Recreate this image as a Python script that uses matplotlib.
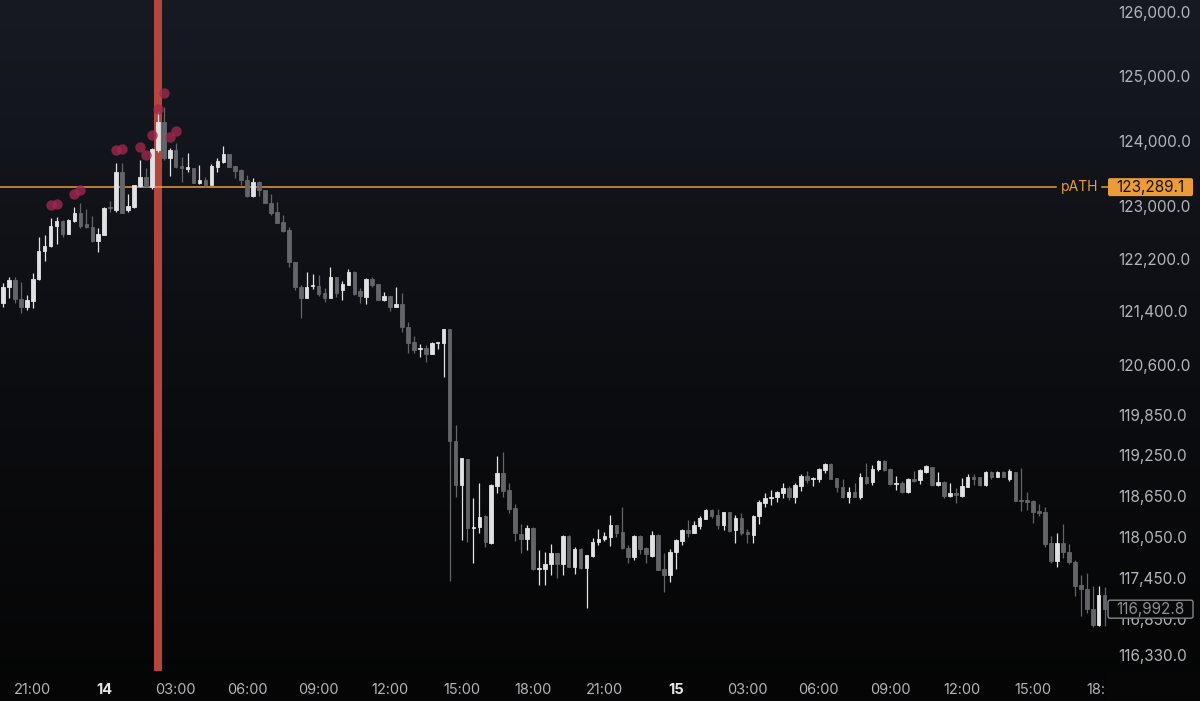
import matplotlib
matplotlib.use("Agg")
import matplotlib.pyplot as plt
import numpy as np
import pandas as pd
from matplotlib import transforms
from matplotlib.colors import LinearSegmentedColormap
from matplotlib.patches import Rectangle, FancyBboxPatch
from matplotlib.ticker import NullLocator

plt.rcParams['font.family'] = ['Inter', 'DejaVu Sans']

# 15 minute candles, 13 Aug 19:45 -> 15 Aug 18:00
start = "2025-08-13 19:45"

opens = [
    121528, 121770, 121876, 121588, 121468, 121558, 121891, 122315, 122391, 122696,
    122772, 122574, 122772, 122894, 122726, 122681, 122467, 122559, 122985, 122940,
    123522, 122940, 122985, 123307, 123445, 123292, 123859, 124291, 123737, 123859,
    123614, 123568, 123583, 123353, 123399, 123322, 123598, 123675, 123798, 123614,
    123552, 123399, 123154, 123368, 123246, 123046, 122909, 122757, 122635, 122149,
    121770, 121603, 121785, 121785, 121679, 121603, 121922, 121724, 121800, 121997,
    121709, 121618, 121891, 121815, 121573, 121634, 121468, 121513, 121166, 120940,
    120835, 120850, 120760, 120925, 120925, 121136, 119463, 118812, 119196, 118179,
    118193, 118355, 117959, 118797, 118990, 118738, 118473, 118091, 118018, 118179,
    117578, 117578, 117651, 117812, 117651, 118061, 117608, 117871, 117593, 117768,
    117973, 118018, 118047, 118223, 118120, 117885, 117754, 118061, 117885, 117768,
    118076, 117578, 117491, 117827, 117988, 118149, 118105, 118208, 118311, 118443,
    118370, 118223, 118414, 118149, 118325, 118120, 118076, 118355, 118546, 118620,
    118634, 118693, 118767, 118634, 118797, 118945, 118901, 118901, 119034, 119122,
    118916, 118782, 118634, 118708, 118634, 118930, 118856, 119049, 119167, 119049,
    118827, 118841, 118708, 118901, 118886, 119004, 119078, 118812, 118856, 118649,
    118693, 118649, 118782, 118930, 118930, 118812, 119004, 118930, 119004, 118901,
    119004, 118590, 118590, 118576, 118429, 118414, 117959, 117695, 117959, 117827,
    117680, 117345, 117287, 116997, 116765, 117200,
]
highs = [
    121830, 121922, 121922, 121846, 121649, 121982, 122528, 122559, 122817, 122833,
    122787, 122802, 122985, 123046, 122955, 122848, 122666, 122985, 123077, 123660,
    123660, 123184, 123322, 123706, 123583, 123890, 124445, 124522, 123890, 123967,
    123752, 123813, 123583, 123629, 123445, 123644, 123737, 123921, 123798, 123614,
    123568, 123476, 123430, 123384, 123246, 123184, 123061, 122863, 122681, 122149,
    121800, 121997, 121967, 121952, 121755, 122073, 121922, 121861, 122043, 122012,
    121755, 121906, 121922, 121815, 121694, 121634, 121770, 121679, 121242, 121031,
    120910, 120895, 120940, 120940, 121136, 121136, 119701, 119211, 119196, 118620,
    118841, 118370, 118826, 119240, 119300, 118841, 118532, 118238, 118223, 118193,
    117856, 117827, 117944, 117812, 118076, 118076, 117900, 117885, 117783, 118032,
    118164, 118120, 118370, 118223, 118487, 117929, 118076, 118076, 117900, 118135,
    118091, 117812, 117871, 118018, 118164, 118296, 118281, 118355, 118458, 118458,
    118458, 118414, 118414, 118370, 118399, 118164, 118370, 118590, 118693, 118738,
    118723, 118841, 118797, 118841, 118975, 119019, 118930, 119063, 119137, 119137,
    118916, 118901, 118782, 118841, 118990, 119137, 119108, 119182, 119182, 119063,
    118945, 118871, 118916, 119019, 119049, 119108, 119078, 119004, 118871, 118841,
    118767, 118916, 118975, 118975, 118930, 119019, 119019, 119019, 119019, 119049,
    119004, 119063, 118708, 118590, 118532, 118487, 118061, 118105, 118238, 117944,
    117710, 117491, 117520, 117330, 117330, 117316,
]
lows = [
    121468, 121603, 121528, 121377, 121422, 121453, 121876, 122164, 122376, 122421,
    122529, 122574, 122757, 122666, 122666, 122452, 122300, 122559, 122909, 122909,
    122894, 122909, 122970, 123292, 123292, 123261, 123828, 123706, 123460, 123583,
    123368, 123522, 123353, 123338, 123292, 123322, 123522, 123660, 123598, 123430,
    123322, 123138, 123138, 123154, 123046, 122863, 122741, 122605, 122073, 121724,
    121302, 121603, 121739, 121634, 121543, 121603, 121618, 121573, 121800, 121649,
    121528, 121513, 121770, 121573, 121558, 121407, 121468, 121091, 120775, 120775,
    120715, 120640, 120760, 120835, 120416, 117403, 118634, 118003, 117973, 117666,
    118105, 117900, 117944, 118693, 118634, 118399, 117988, 117812, 117856, 117564,
    117345, 117345, 117491, 117447, 117491, 117608, 117505, 117578, 117011, 117754,
    117929, 117988, 117915, 118047, 117871, 117666, 117710, 117798, 117666, 117754,
    117564, 117243, 117389, 117578, 117929, 118047, 118105, 118164, 118311, 118325,
    118164, 118149, 118120, 117959, 118076, 117959, 117959, 118238, 118487, 118517,
    118561, 118620, 118590, 118546, 118723, 118841, 118797, 118856, 118990, 118901,
    118708, 118620, 118546, 118634, 118605, 118827, 118812, 119019, 119019, 118812,
    118738, 118693, 118693, 118856, 118827, 118990, 118797, 118797, 118620, 118634,
    118546, 118634, 118782, 118812, 118797, 118797, 118901, 118930, 118930, 118871,
    118576, 118429, 118443, 118252, 118355, 117900, 117666, 117608, 117739, 117651,
    117185, 116895, 116939, 116736, 116750, 116750,
]
closes = [
    121770, 121876, 121588, 121468, 121573, 121891, 122315, 122391, 122696, 122772,
    122574, 122787, 122894, 122696, 122681, 122467, 122574, 122970, 122970, 123522,
    122894, 123000, 123322, 123445, 123307, 123875, 124291, 123737, 123859, 123598,
    123583, 123598, 123353, 123399, 123322, 123614, 123690, 123798, 123598, 123537,
    123399, 123154, 123368, 123246, 123046, 122894, 122741, 122620, 122149, 121770,
    121603, 121770, 121800, 121664, 121603, 121922, 121679, 121815, 121997, 121664,
    121634, 121891, 121800, 121573, 121634, 121468, 121513, 121166, 120925, 120820,
    120850, 120760, 120925, 120935, 121136, 119463, 118812, 119211, 118179, 118193,
    118340, 117973, 118812, 118990, 118723, 118458, 118105, 118018, 118179, 117578,
    117593, 117651, 117812, 117651, 118061, 117608, 117871, 117593, 117783, 117973,
    118018, 118061, 118223, 118105, 117885, 117754, 118061, 117871, 117798, 118076,
    117564, 117491, 117827, 118003, 118149, 118105, 118223, 118325, 118443, 118355,
    118223, 118414, 118135, 118325, 118105, 118091, 118355, 118561, 118620, 118634,
    118708, 118767, 118634, 118812, 118945, 118886, 118916, 119049, 119122, 118901,
    118782, 118634, 118708, 118634, 118930, 118841, 119049, 119167, 119034, 118827,
    118841, 118708, 118901, 118871, 119034, 119093, 118812, 118856, 118649, 118693,
    118664, 118797, 118930, 118901, 118812, 119004, 118930, 119004, 118930, 119019,
    118576, 118576, 118561, 118414, 118399, 117944, 117695, 117959, 117827, 117680,
    117330, 117287, 116997, 116765, 117200, 116992.8,
]

price_ticks = [126000, 125000, 124000, 123000, 122200, 121400, 120600,
               119850, 119250, 118650, 118050, 117450, 116850, 116330]
time_ticks = ["2025-08-13 21:00", "2025-08-14 00:00", "2025-08-14 03:00",
              "2025-08-14 06:00", "2025-08-14 09:00", "2025-08-14 12:00",
              "2025-08-14 15:00", "2025-08-14 18:00", "2025-08-14 21:00",
              "2025-08-15 00:00", "2025-08-15 03:00", "2025-08-15 06:00",
              "2025-08-15 09:00", "2025-08-15 12:00", "2025-08-15 15:00",
              "2025-08-15 18:00"]
time_labels = ["21:00", "14", "03:00", "06:00", "09:00", "12:00", "15:00", "18:00",
               "21:00", "15", "03:00", "06:00", "09:00", "12:00", "15:00", "18:00"]

path_level = 123289.1
last_price = 116992.8
ath_time = "2025-08-14 02:15"
signal_times = ["2025-08-13 21:45", "2025-08-13 22:00", "2025-08-13 22:45",
                "2025-08-13 23:00", "2025-08-14 00:30", "2025-08-14 00:45",
                "2025-08-14 01:30", "2025-08-14 01:45", "2025-08-14 02:00",
                "2025-08-14 02:15", "2025-08-14 02:30", "2025-08-14 02:45",
                "2025-08-14 03:00"]
signal_price = [123016, 123031, 123184, 123246, 123859, 123875, 123905,
                123782, 124090, 124491, 124738, 124059, 124152]

UP = "#e2e2e5"
DOWN = "#646569"
ORANGE = "#eb9b3a"
LABEL = "#b4b5bb"

times = pd.date_range(start, periods=len(opens), freq="15min")
pos = {t: i for i, t in enumerate(times)}
x = np.arange(len(opens))
o, h, l, c = map(np.array, (opens, highs, lows, closes))

fig = plt.figure(figsize=(12, 7.01), dpi=100)

# background gradient
bg = fig.add_axes([0, 0, 1, 1])
grad = np.linspace(0, 1, 256).reshape(-1, 1)
cmap = LinearSegmentedColormap.from_list("bg", ["#171a23", "#0d0e12", "#050505"])
bg.imshow(grad, aspect="auto", cmap=cmap, extent=[0, 1, 0, 1])
bg.axis("off")

ax = fig.add_axes([0, 30 / 701, 1110 / 1200, 671 / 701])
ax.set_facecolor("none")
ax.set_yscale("log")
ax.set_xlim(-0.5, 185.9)
ax.set_ylim(116098, 126188)
for s in ax.spines.values():
    s.set_visible(False)

# ATH marker
ax.axvline(pos[pd.Timestamp(ath_time)], color="#b3463e", lw=5.8, zorder=1)

# candles
up = c >= o
col = np.where(up, UP, DOWN)
ax.vlines(x, l, h, colors=col, linewidth=0.9, zorder=3)
ax.bar(x, np.abs(c - o), bottom=np.minimum(o, c), width=0.6, color=col,
       edgecolor=col, linewidth=0.6, zorder=4)

# signal dots
sx = [pos[pd.Timestamp(t)] for t in signal_times]
ax.scatter(sx, signal_price, s=56, color="#a3284f", alpha=0.78, linewidths=0, zorder=5)

# pATH line + label
trans = transforms.blended_transform_factory(ax.transAxes, ax.transData)
ax.plot([0, 1056 / 1110], [path_level, path_level], color=ORANGE, lw=1.1,
        transform=trans, zorder=2)
ax.plot([1102 / 1110, 1], [path_level, path_level], color=ORANGE, lw=1.1,
        transform=trans, zorder=2, clip_on=False)
ax.text(1098 / 1110, path_level, "pATH", color=ORANGE, fontsize=10,
        ha="right", va="center", transform=trans)


def price_box(level, face, edge, text_color):
    # label box on the price scale, sized in pixels
    ypix = ax.transData.transform((0, level))[1]
    box = FancyBboxPatch((1108, ypix - 9), 85, 18,
                         boxstyle="round,pad=0,rounding_size=2",
                         fc=face, ec=edge, lw=1,
                         transform=transforms.IdentityTransform(), zorder=11)
    fig.add_artist(box)
    fig.text(1150.5 / 1200, ypix / 701, f"{level:,.1f}", color=text_color,
             fontsize=11, ha="center", va="center", zorder=12)


price_box(path_level, ORANGE, "none", "#141414")
price_box(last_price, "#080808", "#85868b", "#8e8f95")

# axes ticks
ax.yaxis.tick_right()
ax.set_yticks(price_ticks, labels=[f"{v:,.1f}" for v in price_ticks])
ax.yaxis.set_minor_locator(NullLocator())
ax.tick_params(axis="y", length=0, pad=6, labelsize=11, labelcolor=LABEL)

xt = [pos[pd.Timestamp(t)] for t in time_ticks]
ax.set_xticks(xt, labels=time_labels)
ax.tick_params(axis="x", length=0, pad=9, labelsize=10.5, labelcolor=LABEL)
for lab in ax.get_xticklabels():
    if ":" not in lab.get_text():
        lab.set_fontweight("bold")
        lab.set_color("#e6e6e8")

# price scale covers the last time label
fig.add_artist(Rectangle((1106 / 1200, 0), 94 / 1200, 30 / 701,
                         transform=fig.transFigure, color="#060606", zorder=10))

fig.savefig("out.png", dpi=100)
